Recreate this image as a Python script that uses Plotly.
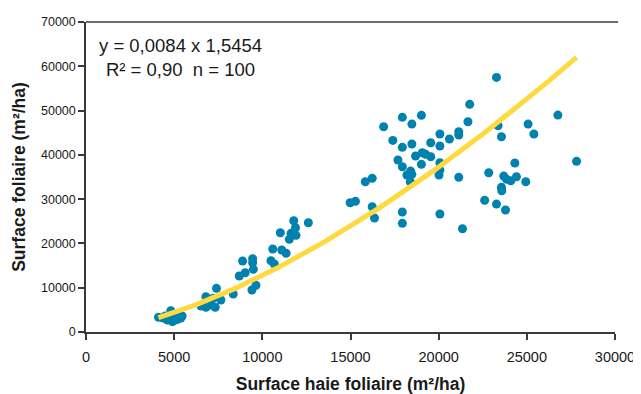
import numpy as np
import plotly.graph_objects as go

# Scatter data (m²/ha)
haie = [4110, 4375, 4620, 4810, 4900, 5060, 5190, 5380, 4490, 5450, 5000, 4700,
        6520, 6800, 6800, 7220, 7400, 7330, 7650, 7100,
        8350, 8690, 8880, 9030, 9450, 9450, 9490, 9640, 9410,
        10490, 10590, 10680, 11020, 11100, 11350, 11530, 11630, 11780, 11880, 11910, 12610,
        21760, 21660, 19020, 17940, 18480, 16880, 17400, 17940, 18480, 19550,
        20070, 20070, 20610, 21140, 21140, 17690, 17940, 18690, 19070, 19260,
        19550, 19020, 18200, 18410, 18480, 18390, 20070, 20070, 20020, 21140,
        15840, 16230, 14980, 15280, 16230, 16360, 17940, 17940, 20070, 21350,
        23280, 23370, 23560, 25070, 25400, 26760, 27820, 24320, 22840, 23690,
        23850, 24090, 24410, 24940, 23560, 23580, 22610, 23280, 23790]
foliaire = [3320, 3160, 2710, 4810, 2330, 2710, 2870, 3160, 3610, 3610, 3840, 3300,
            5870, 5580, 7970, 7610, 9860, 5580, 7220, 6090,
            8580, 12640, 16030, 13390, 16550, 15640, 14150, 10540, 9480,
            16090, 18740, 15350, 22420, 18510, 17770, 20930, 22280, 25120, 23540, 21830, 24670,
            51400, 47470, 48920, 48470, 46950, 46340, 43270, 41690, 42440, 42730,
            44700, 41990, 43570, 45210, 44470, 38830, 37310, 39730, 40470, 40110,
            39570, 37860, 35440, 36340, 35600, 33930, 38220, 36570, 35440, 34920,
            33930, 34700, 29190, 29500, 28280, 25730, 27090, 24540, 26640, 23320,
            57490, 46570, 44090, 46950, 44700, 48980, 38530, 38150, 35960, 35210,
            34470, 34150, 35060, 33930, 32660, 31900, 29730, 28890, 27540]

# Power-law fit  y = a * x^b
coef_a = 0.0084
coef_b = 1.5454
fit_x = np.linspace(min(haie), max(haie), 200)
fit_y = coef_a * fit_x ** coef_b

x_ticks = [0, 5000, 10000, 15000, 20000, 25000, 30000]
y_ticks = [0, 10000, 20000, 30000, 40000, 50000, 60000, 70000]

FONT = "Liberation Sans, Arial, sans-serif"
AX = "#3a3a3a"

fig = go.Figure()
fig.add_trace(go.Scatter(x=haie, y=foliaire, mode="markers",
                         marker=dict(color="#0082AE", size=9, line=dict(width=0)),
                         showlegend=False, hoverinfo="skip"))
fig.add_trace(go.Scatter(x=fit_x, y=fit_y, mode="lines",
                         line=dict(color="#FFD940", width=5),
                         showlegend=False, hoverinfo="skip"))

fig.update_layout(
    width=633, height=386,
    margin=dict(l=78, r=26, t=14, b=62, autoexpand=False),
    paper_bgcolor="white", plot_bgcolor="white",
    font=dict(family=FONT, color="#1a1a1a"),
    xaxis=dict(range=[0, 30000], tickvals=x_ticks, ticktext=[str(v) for v in x_ticks],
               automargin=False,
               showgrid=False, zeroline=False, showline=True, linecolor=AX, linewidth=1.5,
               ticks="outside", ticklen=6, tickwidth=1.5, tickcolor=AX,
               ticklabelstandoff=5,
               tickfont=dict(size=14.5, color="#1a1a1a"),
               title=dict(text="<b>Surface haie foliaire (m²/ha)</b>", font=dict(size=17.5), standoff=15)),
    yaxis=dict(range=[0, 70000], tickvals=y_ticks, ticktext=[str(v) for v in y_ticks],
               automargin=False,
               showgrid=False, zeroline=False, showline=True, linecolor=AX, linewidth=1.5,
               ticks="outside", ticklen=6, tickwidth=1.5, tickcolor=AX,
               tickfont=dict(size=12.5, color="#1a1a1a"),
               title=dict(text="<b>Surface foliaire (m²/ha)</b>", font=dict(size=17.5), standoff=11)),
    shapes=[dict(type="line", xref="paper", yref="paper", x0=0, x1=1.006, y0=1, y1=1,
                 line=dict(color=AX, width=1.5))],
    annotations=[dict(x=5370, y=62080, xref="x", yref="y", showarrow=False,
                      text="y = 0,0084 x 1,5454<br>R² = 0,90  n = 100",
                      align="center", font=dict(size=18.5, color="#1a1a1a"))],
)

fig.write_html("out.html")
